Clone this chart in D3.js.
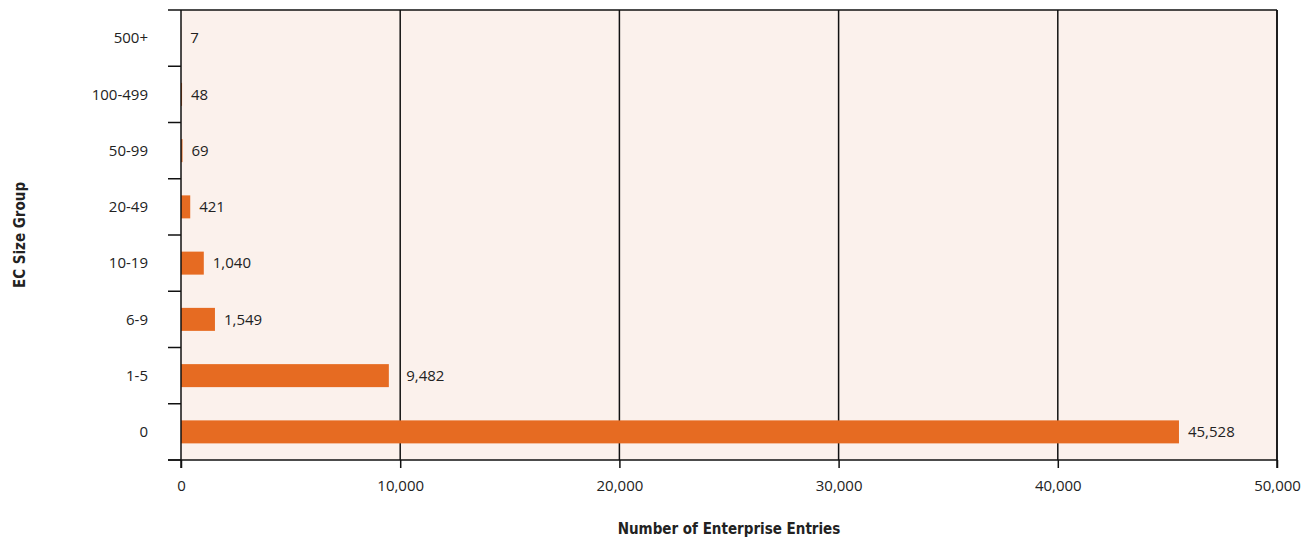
<!DOCTYPE html>
<html>
<head>
<meta charset="utf-8">
<script src="https://cdn.jsdelivr.net/npm/d3@7"></script>
<style>
  body { margin: 0; background: #fff; }
  text { font-family: "Open Sans", "DejaVu Sans", sans-serif; fill: #222; }
  .axis-title { font-family: "DejaVu Sans Condensed", "Roboto", sans-serif; font-weight: bold; font-size: 15px; }
</style>
</head>
<body>
<svg id="chart"></svg>
<script>
// data
const groups = ["500+", "100-499", "50-99", "20-49", "10-19", "6-9", "1-5", "0"];
const entries = [7, 48, 69, 421, 1040, 1549, 9482, 45528];
const xTicks = [0, 10000, 20000, 30000, 40000, 50000];

const W = 1307, H = 539;
const margin = {top: 10, right: 30, bottom: 79, left: 181};
const width = W - margin.left - margin.right,
      height = H - margin.top - margin.bottom;

const svg = d3.select("#chart")
    .attr("width", W)
    .attr("height", H)
  .append("g")
    .attr("transform", `translate(${margin.left},${margin.top})`);

const x = d3.scaleLinear().domain([0, 50000]).range([0, width]);
const y = d3.scaleBand().domain(groups).range([0, height]).paddingInner(0).paddingOuter(0);

const fmt = d3.format(",");

// plot background
svg.append("rect")
    .attr("width", width)
    .attr("height", height)
    .style("fill", "#fbf1ec");

// vertical grid lines
svg.selectAll(".grid")
    .data(xTicks.slice(1))
  .enter().append("line")
    .attr("class", "grid")
    .attr("x1", d => x(d)).attr("x2", d => x(d))
    .attr("y1", 0).attr("y2", height)
    .style("stroke", "#111")
    .style("stroke-width", 1.5);

// top border, extends left like a tick
svg.append("line")
    .attr("x1", -13).attr("x2", width)
    .attr("y1", 0).attr("y2", 0)
    .style("stroke", "#111").style("stroke-width", 1.5);

// bars
const barH = 23;
svg.selectAll(".bar")
    .data(entries)
  .enter().append("rect")
    .attr("class", "bar")
    .attr("x", 0)
    .attr("y", (d, i) => y(groups[i]) + (y.bandwidth() - barH) / 2)
    .attr("width", d => x(d))
    .attr("height", barH)
    .style("fill", "#e66b22");

// value labels (nudged past a grid line when they would sit on it)
svg.selectAll(".val")
    .data(entries)
  .enter().append("text")
    .attr("class", "val")
    .attr("x", d => {
        const px = x(d) + 9;
        const near = xTicks.find(t => t > 0 && x(t) >= px - 2 && x(t) < px + 12);
        return near !== undefined ? x(near) + 6 : px;
    })
    .attr("y", (d, i) => y(groups[i]) + y.bandwidth() / 2)
    .attr("dy", "0.35em")
    .style("font-size", "15px")
    .text(d => fmt(d));

// y axis: ticks at band boundaries
const yAxis = svg.append("g");
yAxis.append("line")
    .attr("x1", 0).attr("x2", 0)
    .attr("y1", 0).attr("y2", height + 8)
    .style("stroke", "#111").style("stroke-width", 1.5);
yAxis.selectAll(".ytick")
    .data(groups)
  .enter().append("line")
    .attr("x1", -13).attr("x2", 0)
    .attr("y1", d => y(d) + y.bandwidth()).attr("y2", d => y(d) + y.bandwidth())
    .style("stroke", "#111").style("stroke-width", 1.5);
yAxis.selectAll(".ylab")
    .data(groups)
  .enter().append("text")
    .attr("x", -33)
    .attr("y", d => y(d) + y.bandwidth() / 2)
    .attr("dy", "0.35em")
    .style("text-anchor", "end")
    .style("font-size", "15px")
    .text(d => d);

// x axis
const xAxis = svg.append("g")
    .attr("transform", `translate(0,${height})`)
    .call(d3.axisBottom(x).tickValues(xTicks).tickFormat(fmt).tickSize(8).tickPadding(12).tickSizeOuter(0));
xAxis.select(".domain").remove();
xAxis.append("line")
    .attr("x1", -13).attr("x2", width)
    .style("stroke", "#111").style("stroke-width", 1.5);
xAxis.selectAll(".tick line").style("stroke", "#111").style("stroke-width", 1.5);
xAxis.selectAll(".tick text")
    .style("font-family", "\"Open Sans\", \"DejaVu Sans\", sans-serif")
    .style("font-size", "15px")
    .style("fill", "#222");

// right border
svg.append("line")
    .attr("x1", width).attr("x2", width)
    .attr("y1", 0).attr("y2", height + 8)
    .style("stroke", "#111").style("stroke-width", 1.5);

// axis titles
svg.append("text")
    .attr("class", "axis-title")
    .attr("x", width / 2)
    .attr("y", height + 74)
    .style("text-anchor", "middle")
    .text("Number of Enterprise Entries");

svg.append("text")
    .attr("class", "axis-title")
    .attr("transform", `translate(${-156},${height / 2}) rotate(-90)`)
    .style("text-anchor", "middle")
    .text("EC Size Group");
</script>
</body>
</html>
